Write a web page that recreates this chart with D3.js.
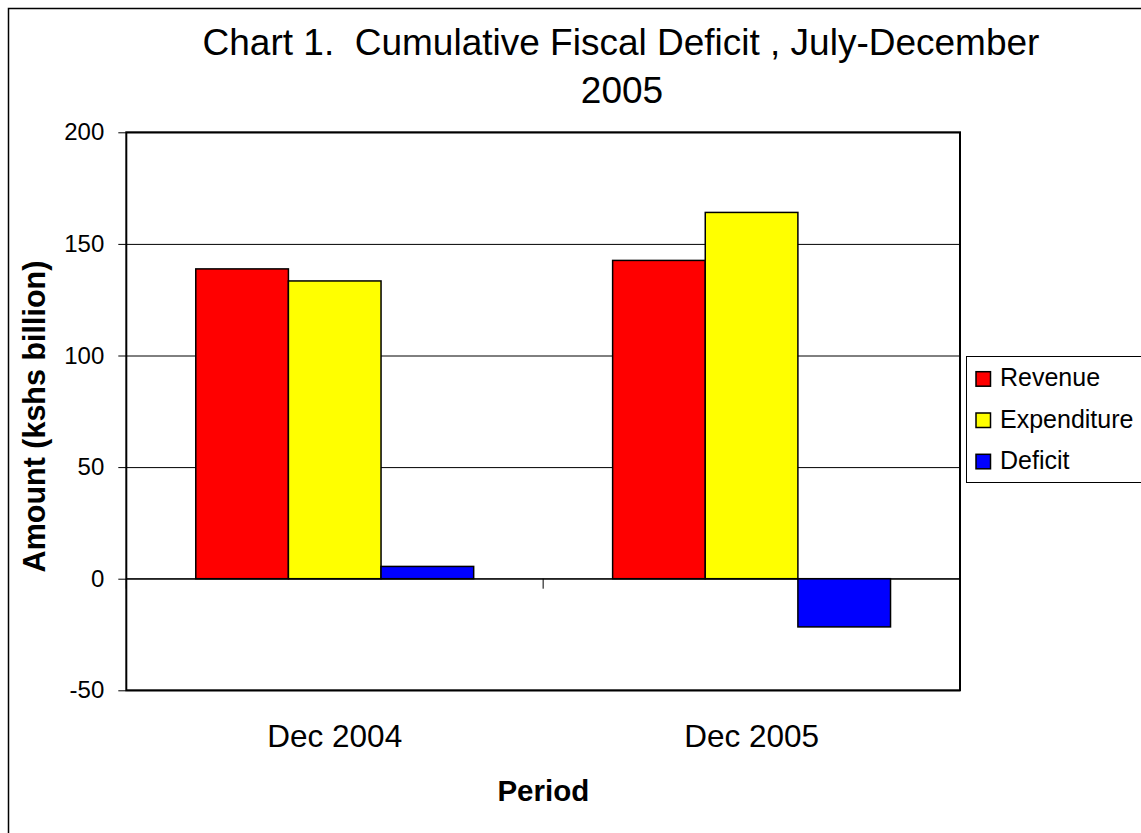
<!DOCTYPE html>
<html>
<head>
<meta charset="utf-8">
<script src="https://cdn.jsdelivr.net/npm/d3@7"></script>
<style>
  html, body { margin: 0; padding: 0; background: #fff; }
  svg { display: block; font-family: "Liberation Sans", Arial, sans-serif; }
  .pre { white-space: pre; }
</style>
</head>
<body>
<svg id="chart" width="1141" height="833"></svg>
<script>
const categories = ["Dec 2004", "Dec 2005"];
const seriesNames = ["Revenue", "Expenditure", "Deficit"];
const revenue = [138.8, 142.6];
const expenditure = [133.4, 164.1];
const deficit = [5.5, -21.6];
const yTicks = [-50, 0, 50, 100, 150, 200];
const colors = ["#FF0000", "#FFFF00", "#0000FF"];
const titleLines = ["Chart 1.  Cumulative Fiscal Deficit , July-December", "2005"];
const yTitle = "Amount (kshs billion)";
const xTitle = "Period";

const seriesValues = [revenue, expenditure, deficit];
const rows = categories.map((c, i) => ({
  category: c,
  values: seriesNames.map((s, j) => ({ key: s, value: seriesValues[j][i], color: colors[j] }))
}));

const svg = d3.select("#chart");
const plot = { left: 126.3, right: 960, top: 132.3, bottom: 690.3 };

// outer chart border
svg.append("rect")
  .attr("x", 8.5).attr("y", 8.5)
  .attr("width", 1200).attr("height", 900)
  .attr("fill", "#fff").attr("stroke", "#000").attr("stroke-width", 1.5);

const x0 = d3.scaleBand().domain(categories).range([plot.left, plot.right]).paddingInner(0).paddingOuter(0);
const x1 = d3.scaleBand().domain(seriesNames).range([0, x0.bandwidth()]).paddingInner(0).paddingOuter(0.75);
const y = d3.scaleLinear().domain([-50, 200]).range([plot.bottom, plot.top]);

// plot area background
svg.append("rect")
  .attr("x", plot.left).attr("y", plot.top)
  .attr("width", plot.right - plot.left).attr("height", plot.bottom - plot.top)
  .attr("fill", "#fff");

// gridlines
const grid = svg.append("g")
  .attr("transform", `translate(${plot.left},0)`)
  .call(d3.axisLeft(y).tickValues(yTicks).tickSize(-(plot.right - plot.left)).tickFormat(""));
grid.select(".domain").remove();
grid.selectAll("line").attr("stroke", "#000").attr("stroke-width", 1);

// bars
const groups = svg.append("g").selectAll("g").data(rows).join("g")
  .attr("transform", d => `translate(${x0(d.category)},0)`);
groups.selectAll("rect").data(d => d.values).join("rect")
  .attr("x", d => x1(d.key))
  .attr("width", x1.bandwidth())
  .attr("y", d => y(Math.max(0, d.value)))
  .attr("height", d => Math.abs(y(d.value) - y(0)))
  .attr("fill", d => d.color)
  .attr("stroke", "#000")
  .attr("stroke-width", 1.5);

// zero line and category ticks
svg.append("line")
  .attr("x1", plot.left).attr("x2", plot.right)
  .attr("y1", y(0)).attr("y2", y(0))
  .attr("stroke", "#000").attr("stroke-width", 1);
const boundaries = [plot.left, x0(categories[1]), plot.right];
svg.append("g").selectAll("line").data(boundaries).join("line")
  .attr("x1", d => d).attr("x2", d => d)
  .attr("y1", y(0)).attr("y2", y(0) + 10)
  .attr("stroke", "#000").attr("stroke-width", 1);

// plot border
svg.append("rect")
  .attr("x", plot.left).attr("y", plot.top)
  .attr("width", plot.right - plot.left).attr("height", plot.bottom - plot.top)
  .attr("fill", "none").attr("stroke", "#000").attr("stroke-width", 2);

// y axis
const yAxis = svg.append("g")
  .attr("transform", `translate(${plot.left},0)`)
  .call(d3.axisLeft(y).tickValues(yTicks).tickSize(8).tickPadding(14).tickFormat(d => String(d)));
yAxis.select(".domain").remove();
yAxis.selectAll("line").attr("stroke", "#000").attr("stroke-width", 1);
yAxis.selectAll("text")
  .attr("font-family", "Liberation Sans, Arial, sans-serif")
  .attr("font-size", 24).attr("fill", "#000");

// x category labels
const xAxis = svg.append("g")
  .attr("transform", `translate(0,${plot.bottom})`)
  .call(d3.axisBottom(x0).tickSize(0).tickPadding(0));
xAxis.select(".domain").remove();
xAxis.selectAll("text")
  .attr("font-family", "Liberation Sans, Arial, sans-serif")
  .attr("font-size", 31.5).attr("fill", "#000")
  .attr("dy", null).attr("y", 57);

// titles
svg.append("text").attr("class", "pre").attr("x", 621).attr("y", 55).attr("text-anchor", "middle")
  .attr("font-size", 37).text(titleLines[0]);
svg.append("text").attr("x", 622).attr("y", 103).attr("text-anchor", "middle")
  .attr("font-size", 37).text(titleLines[1]);

svg.append("text").attr("transform", "translate(45,416.5) rotate(-90)")
  .attr("text-anchor", "middle").attr("font-size", 30.5).attr("font-weight", "bold")
  .text(yTitle);

svg.append("text").attr("x", 543.3).attr("y", 801).attr("text-anchor", "middle")
  .attr("font-size", 29.5).attr("font-weight", "bold").text(xTitle);

// legend
const legend = svg.append("g");
legend.append("rect")
  .attr("x", 966.5).attr("y", 356.5).attr("width", 200).attr("height", 126)
  .attr("fill", "#fff").attr("stroke", "#000").attr("stroke-width", 1);
const items = legend.selectAll("g").data(seriesNames).join("g")
  .attr("transform", (d, i) => `translate(976,${371.7 + i * 41.3})`);
items.append("rect").attr("width", 14.5).attr("height", 14.5)
  .attr("fill", (d, i) => colors[i]).attr("stroke", "#000").attr("stroke-width", 1.5);
items.append("text").attr("x", 24).attr("y", 14.5).attr("font-size", 25).text(d => d);
</script>
</body>
</html>
